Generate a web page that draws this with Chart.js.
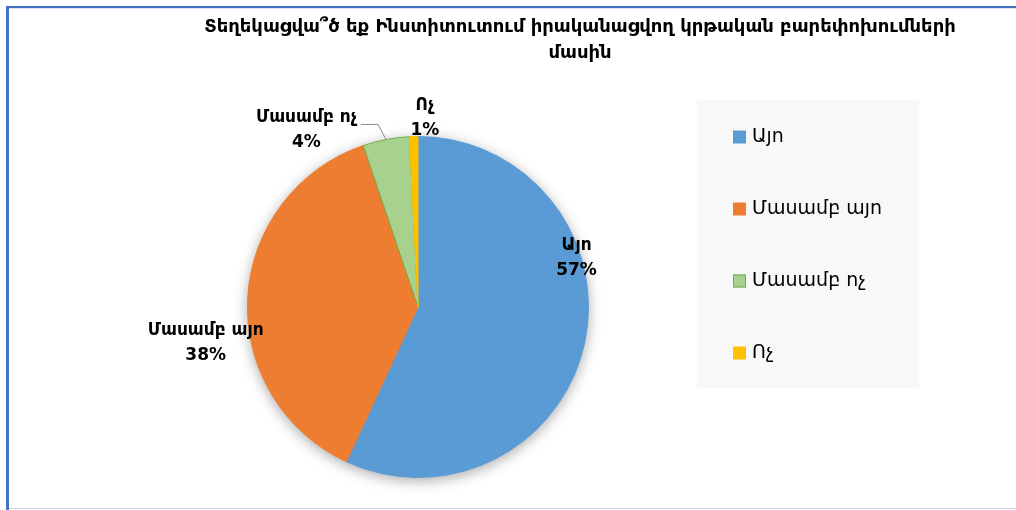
<!DOCTYPE html>
<html>
<head>
<meta charset="utf-8">
<script src="https://cdn.jsdelivr.net/npm/chart.js@4"></script>
<style>
  html, body { margin: 0; padding: 0; background: #ffffff; }
  #chartWrap { width: 1016px; height: 510px; }
</style>
</head>
<body>
<div id="chartWrap"><canvas id="pieChart" width="1016" height="510"></canvas></div>
<script>
// =========================
// 데이터
// =========================
const chartTitle = [
  "Տեղեկացվա՞ծ եք Ինստիտուտում իրականացվող կրթական բարեփոխումների",
  "մասին",
];
const categories = ["Այո", "Մասամբ այո", "Մասամբ ոչ", "Ոչ"];
const shares = [56.9, 37.9, 4.4, 0.8];
const sliceColors = ["#5b9bd5", "#ed7d31", "#a9d18e", "#ffc000"];
const sliceBorders = ["#5b9bd5", "#ed7d31", "#70ad47", "#ffc000"];

const ARM_FONT = '"DejaVu Sans", "Noto Sans", sans-serif';

// =========================
// 바깥 테두리 + 파이 그림자
// =========================
const framePlugin = {
  id: "frame",
  beforeDraw(chart) {
    const { ctx, width, height } = chart;
    ctx.save();
    ctx.fillStyle = "#ffffff";
    ctx.fillRect(0, 0, width, height);
    ctx.fillStyle = "#4472c4";
    ctx.fillRect(6, 6, width - 6, 2);
    ctx.fillRect(6, 6, 3, height - 6);
    ctx.fillStyle = "#dae3f3";
    ctx.fillRect(9, 8, width - 9, 1);
    ctx.fillStyle = "#c9d2e3";
    ctx.fillRect(9, height - 2, width - 9, 1);
    ctx.restore();
  },
  beforeDatasetsDraw(chart) {
    const arc = chart.getDatasetMeta(0).data[0];
    if (!arc) return;
    const { ctx } = chart;
    ctx.save();
    ctx.shadowColor = "rgba(0, 0, 0, 0.35)";
    ctx.shadowBlur = 14;
    ctx.shadowOffsetY = 3;
    ctx.fillStyle = "#ffffff";
    ctx.beginPath();
    ctx.arc(arc.x, arc.y, arc.outerRadius, 0, Math.PI * 2);
    ctx.fill();
    ctx.restore();
  },
};

// =========================
// 제목
// =========================
const titlePlugin = {
  id: "armTitle",
  afterDraw(chart, args, opts) {
    const { ctx } = chart;
    ctx.save();
    ctx.fillStyle = "#000000";
    ctx.font = `bold ${opts.size}px ${ARM_FONT}`;
    ctx.textAlign = "center";
    ctx.textBaseline = "middle";
    opts.lines.forEach((line, i) => {
      ctx.fillText(line, opts.x, opts.y + i * opts.lineHeight);
    });
    ctx.restore();
  },
};

// =========================
// 데이터 라벨 (이름 + 퍼센트)
// =========================
const sliceLabelPlugin = {
  id: "sliceLabels",
  afterDatasetsDraw(chart, args, opts) {
    const { ctx } = chart;
    const arcs = chart.getDatasetMeta(0).data;
    const values = chart.data.datasets[0].data;
    const total = values.reduce((a, b) => a + b, 0);

    ctx.save();
    ctx.fillStyle = "#000000";
    ctx.font = `bold ${opts.size}px ${ARM_FONT}`;
    ctx.textAlign = "center";
    ctx.textBaseline = "middle";

    arcs.forEach((arc, i) => {
      const place = opts.placements[i];
      const a = (place.angle * Math.PI) / 180;
      const r = arc.outerRadius * place.r;
      const x = arc.x + r * Math.sin(a);
      const y = arc.y - r * Math.cos(a);
      const name = chart.data.labels[i];
      const pct = `${Math.round((values[i] / total) * 100)}%`;

      ctx.fillText(name, x, y - opts.gap / 2);
      ctx.fillText(pct, x, y + opts.gap / 2);

      if (place.leader) {
        const mid = (arc.startAngle + arc.endAngle) / 2;
        const ex = arc.x + arc.outerRadius * Math.cos(mid);
        const ey = arc.y + arc.outerRadius * Math.sin(mid);
        const sx = x + ctx.measureText(name).width / 2 + 4;
        const sy = y - 6;
        ctx.save();
        ctx.strokeStyle = "#8c8c8c";
        ctx.lineWidth = 1;
        ctx.beginPath();
        ctx.moveTo(sx, sy);
        ctx.lineTo(ex - 8, sy);
        ctx.lineTo(ex, ey);
        ctx.stroke();
        ctx.restore();
      }
    });
    ctx.restore();
  },
};

// =========================
// 범례 (회색 박스)
// =========================
const legendBoxPlugin = {
  id: "legendBox",
  afterDraw(chart, args, opts) {
    const { ctx } = chart;
    const ds = chart.data.datasets[0];
    ctx.save();
    ctx.fillStyle = "#f8f8f8";
    ctx.fillRect(opts.left, opts.top, opts.width, opts.height);

    ctx.font = `${opts.size}px ${ARM_FONT}`;
    ctx.textAlign = "left";
    ctx.textBaseline = "middle";

    chart.data.labels.forEach((label, i) => {
      const cy = opts.firstY + i * opts.step;
      ctx.fillStyle = ds.backgroundColor[i];
      ctx.fillRect(opts.boxX, cy - opts.box / 2, opts.box, opts.box);
      if (ds.borderColor[i] !== ds.backgroundColor[i]) {
        ctx.strokeStyle = ds.borderColor[i];
        ctx.lineWidth = 1;
        ctx.strokeRect(opts.boxX + 0.5, cy - opts.box / 2 + 0.5, opts.box - 1, opts.box - 1);
      }
      ctx.fillStyle = "#000000";
      ctx.fillText(label, opts.textX, cy);
    });
    ctx.restore();
  },
};

const canvas = document.querySelector("#pieChart");

new Chart(canvas.getContext("2d"), {
  type: "pie",
  data: {
    labels: categories,
    datasets: [
      {
        data: shares,
        backgroundColor: sliceColors,
        borderColor: sliceBorders,
        borderWidth: 1,
      },
    ],
  },
  options: {
    responsive: false,
    devicePixelRatio: 1,
    animation: false,
    layout: {
      padding: { left: 247, right: 427, top: 136, bottom: 32 },
    },
    plugins: {
      legend: { display: false },
      tooltip: { enabled: false },
      title: { display: false },
      armTitle: { lines: chartTitle, x: 580, y: 27, lineHeight: 26, size: 18 },
      sliceLabels: {
        size: 17,
        gap: 25,
        placements: [
          { angle: 72.7, r: 0.974 },
          { angle: 260.4, r: 1.263 },
          { angle: 327.7, r: 1.225, leader: true },
          { angle: 2.1, r: 1.106 },
        ],
      },
      legendBox: {
        left: 697, top: 100, width: 222, height: 288,
        boxX: 733, box: 13, textX: 752,
        firstY: 137, step: 72, size: 19,
      },
    },
  },
  plugins: [framePlugin, titlePlugin, sliceLabelPlugin, legendBoxPlugin],
});
</script>
</body>
</html>
